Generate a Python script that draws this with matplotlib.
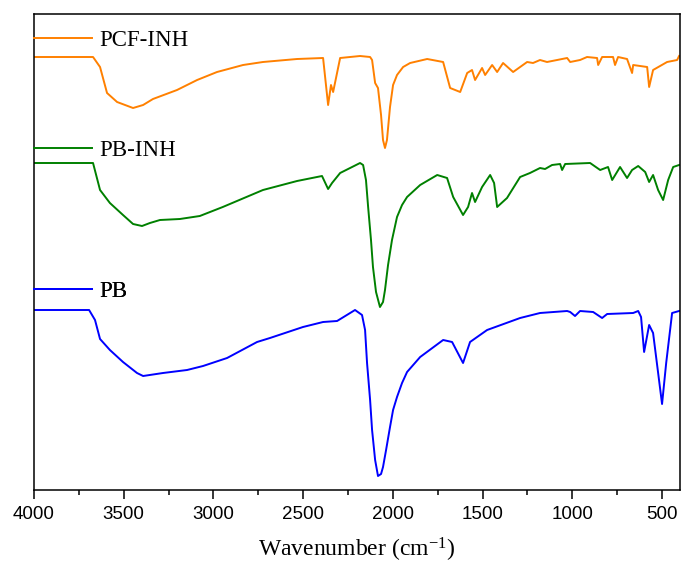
"""FTIR spectra of PB, PB-INH and PCF-INH, stacked with vertical offsets."""

import matplotlib
matplotlib.use("Agg")
import matplotlib.pyplot as plt
from matplotlib.ticker import MultipleLocator
from matplotlib.lines import Line2D

plt.rcParams["mathtext.fontset"] = "custom"
plt.rcParams["mathtext.rm"] = "Liberation Serif"
plt.rcParams["mathtext.it"] = "Liberation Serif:italic"

# wavenumber (cm-1) / intensity (a.u., offset already included)
pcf_wn = [4000, 3671, 3632, 3593, 3537, 3448, 3392, 3337, 3203, 3091, 2980, 2835,
          2724, 2534, 2389, 2361, 2345, 2333, 2294, 2183, 2127, 2116, 2099, 2083,
          2066, 2055, 2044, 2033, 2016, 1999, 1977, 1943, 1904, 1809, 1720, 1681,
          1625, 1586, 1559, 1542, 1503, 1486, 1447, 1419, 1386, 1330, 1252, 1219,
          1180, 1141, 1029, 1012, 957, 918, 862, 856, 834, 773, 762, 745, 695, 667,
          661, 583, 572, 550, 472, 416, 405]
pcf_y = [433, 433, 423, 397, 388, 382, 385, 391, 400, 410, 418, 425,
         428, 431, 432, 385, 405, 398, 432, 434, 433, 430, 407, 402,
         375, 350, 342, 350, 383, 405, 415, 423, 427, 431, 428, 402,
         398, 417, 420, 410, 422, 415, 425, 418, 427, 418, 428, 427,
         430, 428, 432, 428, 430, 433, 432, 425, 433, 433, 425, 433, 431, 417,
         425, 423, 403, 420, 428, 430, 434]

pbinh_wn = [4000, 3671, 3632, 3577, 3504, 3448, 3398, 3354, 3298, 3187, 3076, 2948,
            2724, 2534, 2395, 2361, 2339, 2294, 2183, 2166, 2150, 2138, 2122, 2111,
            2094, 2072, 2055, 2044, 2027, 2005, 1977, 1949, 1921, 1848, 1753, 1698,
            1664, 1609, 1581, 1559, 1542, 1503, 1458, 1436, 1419, 1364, 1291, 1236,
            1180, 1152, 1113, 1068, 1057, 1040, 901, 845, 801, 778, 734, 695, 667,
            633, 594, 572, 550, 522, 494, 466, 438, 405]
pbinh_y = [327, 327, 300, 287, 275, 266, 264, 267, 270, 271, 274, 283,
           300, 309, 314, 301, 307, 317, 327, 325, 310, 283, 250, 223,
           198, 183, 188, 200, 225, 250, 273, 285, 293, 305, 315, 312,
           293, 275, 283, 297, 288, 303, 315, 307, 283, 292, 313, 317,
           322, 321, 325, 326, 320, 326, 327, 320, 323, 310, 323, 312, 320,
           324, 318, 308, 315, 300, 290, 310, 323, 325]

pb_wn = [4000, 3693, 3660, 3632, 3577, 3504, 3426, 3392, 3281, 3147, 3058, 2924,
         2757, 2685, 2501, 2389, 2311, 2211, 2172, 2155, 2144, 2127, 2116, 2099,
         2083, 2066, 2055, 2038, 2016, 1999, 1977, 1949, 1921, 1848, 1720, 1670,
         1609, 1570, 1475, 1291, 1180, 1029, 1012, 985, 957, 884, 834, 806, 661,
         633, 617, 600, 572, 550, 500, 477, 444, 405]
pb_y = [180, 180, 170, 151, 140, 128, 117, 114, 117, 120, 124, 132,
        148, 152, 163, 168, 169, 180, 175, 160, 127, 90, 60, 30,
        14, 16, 23, 40, 63, 80, 93, 107, 118, 133, 150, 148,
        127, 148, 160, 172, 177, 179, 178, 174, 179, 178, 172, 176, 177,
        179, 173, 138, 165, 157, 86, 127, 177, 179]

series = [
    ("PCF-INH", pcf_wn, pcf_y, "#FF8000", 0.944),
    ("PB-INH", pbinh_wn, pbinh_y, "#008000", 0.714),
    ("PB", pb_wn, pb_y, "#0000FF", 0.417),
]

fig = plt.figure(figsize=(6.81, 5.69), dpi=100)
ax = fig.add_axes([34 / 681, 79 / 569, 646 / 681, 476 / 569])

for name, wn, y, color, ly in series:
    ax.plot(wn, y, color=color, lw=1.4, solid_joinstyle="round")
    # Origin-style label next to each trace
    handle = Line2D([], [], color=color, lw=1.4)
    leg = ax.legend([handle], [name], loc="center left", bbox_to_anchor=(0, ly),
                    frameon=False, borderpad=0, borderaxespad=0,
                    handlelength=2.55, handletextpad=0.3,
                    prop={"family": "Liberation Serif", "size": 16.5})
    ax.add_artist(leg)

ax.set_xlim(4000, 400)
ax.set_ylim(0, 476)
ax.xaxis.set_major_locator(MultipleLocator(500))
ax.xaxis.set_minor_locator(MultipleLocator(250))
ax.set_yticks([])
ax.tick_params(axis="x", which="major", direction="out", length=6.5, width=1.1,
               pad=5, labelsize=13.5)
ax.tick_params(axis="x", which="minor", direction="out", length=3.5, width=1.1)
for lab in ax.get_xticklabels():
    lab.set_family("Liberation Sans")
for sp in ax.spines.values():
    sp.set_linewidth(1.1)

ax.set_xlabel("Wavenumber (cm$^{\\mathrm{-1}}$)", family="Liberation Serif",
              fontsize=17, labelpad=9)

fig.savefig("out.png", dpi=100)
